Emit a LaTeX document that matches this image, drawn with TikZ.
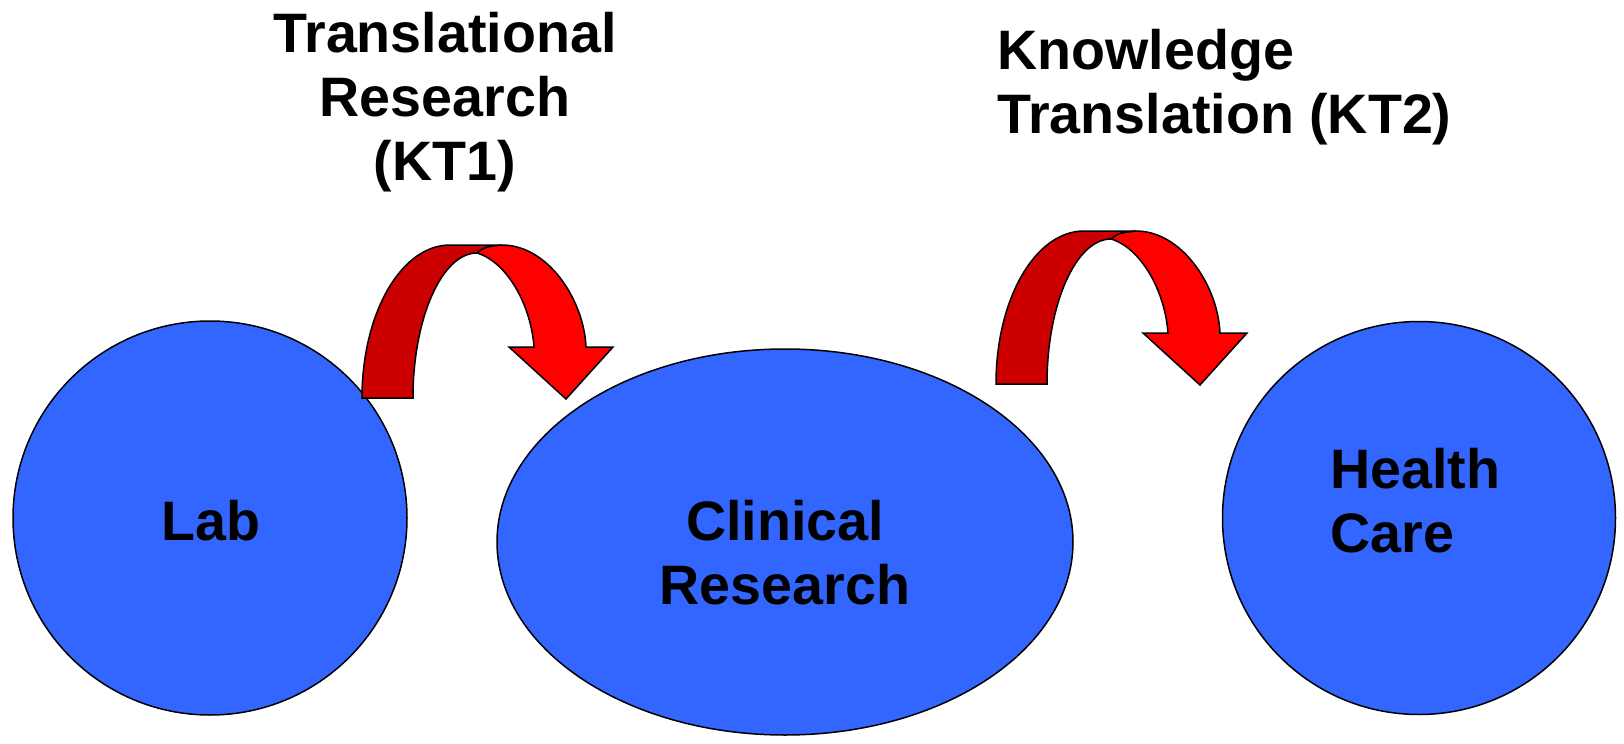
\documentclass[tikz,border=0pt]{standalone}
\usepackage{fontspec}
\setmainfont{Liberation Sans}
\usetikzlibrary{shapes.geometric}
\definecolor{blobblue}{HTML}{3366FF}
\definecolor{backred}{HTML}{CC0000}
\definecolor{frontred}{HTML}{FF0000}

\begin{document}
\begin{tikzpicture}[
  x=0.5pt,y=-0.5pt,
  blob/.style={draw,ellipse,fill=blobblue,line width=0.75pt,inner sep=0pt},
  txt/.style={font=\bfseries\fontsize{27.8}{32}\selectfont,inner sep=0pt},
  band/.style={draw,line width=0.75pt,line join=miter},
  bentarrow/.pic={
    % back half of the band
    \fill[band,fill=backred] (0,0) -- (51,0)
      .. controls (51,-80) and (80,-145) .. (115,-145)
      .. controls (123,-151) .. (140,-153) -- (88,-153)
      .. controls (39,-153) and (0,-84.5) .. (0,0) -- cycle;
    % front half with the head
    \fill[band,fill=frontred] (115,-145)
      .. controls (123,-151) .. (140,-153)
      .. controls (186,-153) and (222,-98) .. (224,-51)
      -- (251,-51) -- (204,1) -- (147,-51) -- (172,-51)
      .. controls (169,-93) and (145,-136) .. (115,-145) -- cycle;
  }
]
\useasboundingbox (0,0) rectangle (1624,744);

\node[blob,minimum width=197pt,minimum height=197pt] (lab) at (210,518) {};
\node[blob,minimum width=288pt,minimum height=193pt] (clinical) at (785,542) {};
\node[blob,minimum width=196.5pt,minimum height=196.5pt] (health) at (1419,518) {};

% base anchor sits on the last line
\node[txt,anchor=base] (labtext) at (211,540) {Lab};
\node[txt,align=center,anchor=base] (clinicaltext) at (785,604) {Clinical\\Research};
\node[txt,align=left,anchor=base west] (healthtext) at (1330,552) {Health\\Care};

\node[txt,align=center,anchor=base] (kt1) at (445,180) {Translational\\Research\\(KT1)};
\node[txt,align=left,anchor=base west] (kt2) at (997,133) {Knowledge\\Translation (KT2)};

\pic (kt1arrow) at (362,398) {bentarrow};
\pic (kt2arrow) at (996,384) {bentarrow};
\end{tikzpicture}
\end{document}
